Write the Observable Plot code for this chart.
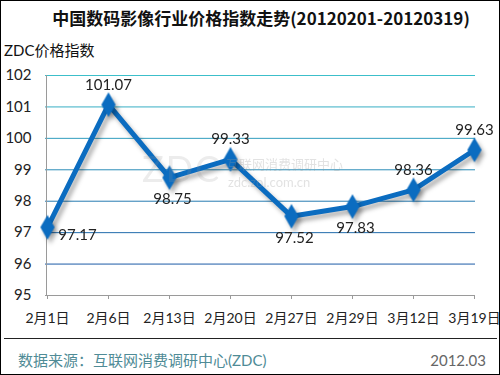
<!DOCTYPE html>
<html>
<head>
<meta charset="utf-8">
<script src="https://cdn.jsdelivr.net/npm/d3@7"></script>
<script src="https://cdn.jsdelivr.net/npm/@observablehq/plot@0.6"></script>
<style>
  html, body { margin: 0; padding: 0; background: #fff; }
  #wrap { position: relative; width: 500px; height: 375px; overflow: hidden; background: #fff;
          font-family: Lato, "Noto Sans CJK SC", sans-serif; }
  #border { position: absolute; left: 0; top: 0; width: 500px; height: 375px; box-sizing: border-box;
            border: 1px solid #000; pointer-events: none; }
  #title { position: absolute; left: 22px; right: 0; top: 6px; text-align: center;
           font: bold 17px "Noto Sans CJK SC", sans-serif; color: #111; line-height: 24px; white-space: nowrap; }
  #ylabel { position: absolute; left: 4px; top: 40px; font-size: 15px; color: #111; line-height: 20px; }
  #plot { position: absolute; left: 0; top: 36px; }
  #wm1 { position: absolute; left: 142px; top: 151px; font: 36px Lato, sans-serif; line-height: 34px; color: rgba(150,150,150,0.18);
         letter-spacing: 2px; }
  #wm2 { position: absolute; left: 226px; top: 156px; font: 13px "Noto Sans CJK SC", sans-serif; line-height: 16px; color: rgba(150,150,150,0.28); }
  #wm3 { position: absolute; left: 228px; top: 175px; font: 13px Lato, sans-serif; line-height: 15px; color: rgba(150,150,150,0.28); }
  #rule { position: absolute; left: 4px; top: 338px; width: 493px; height: 1px; background: #222; }
  #source { position: absolute; left: 18px; top: 350px; font-size: 15px; color: #4f8b96; line-height: 20px; }
  #date { position: absolute; right: 14px; top: 350px; font-size: 15px; color: #666; line-height: 20px; }
</style>
</head>
<body>
<div id="wrap">
  <div id="title"></div>
  <div id="ylabel"></div>
  <div id="plot"></div>
  <div id="wm1">ZDC</div>
  <div id="wm2">互联网消费调研中心</div>
  <div id="wm3">zdc.zol.com.cn</div>
  <div id="rule"></div>
  <div id="source"></div>
  <div id="date"></div>
  <div id="border"></div>
</div>
<script>
const titleText = "中国数码影像行业价格指数走势(20120201-20120319)";
const yLabelText = "ZDC价格指数";
const sourceText = "数据来源：互联网消费调研中心(ZDC)";
const dateText = "2012.03";

const dates = ["2月1日", "2月6日", "2月13日", "2月20日", "2月27日", "2月29日", "3月12日", "3月19日"];
const values = [97.17, 101.07, 98.75, 99.33, 97.52, 97.83, 98.36, 99.63];
const labelPlacement = ["right", "above", "below", "above", "below", "below", "above", "above"];
const yTicks = [95, 96, 97, 98, 99, 100, 101, 102];
const gridTicks = [96, 97, 98, 99, 100, 101, 102];

document.getElementById("title").textContent = titleText;
document.getElementById("ylabel").textContent = yLabelText;
document.getElementById("source").textContent = sourceText;
document.getElementById("date").textContent = dateText;

const data = dates.map((d, i) => ({date: d, value: values[i], place: labelPlacement[i]}));
const gridColor = v => d3.interpolateRgb("#1c5ba6", "#3cbfca")((v - 96) / 6);
const blue = "#0b6cc0";

const chart = Plot.plot({
  width: 500,
  height: 294,
  marginTop: 39,
  marginBottom: 35,
  marginLeft: 45,
  marginRight: 25,
  style: {fontFamily: "Lato, 'Noto Sans CJK SC', sans-serif", fontSize: "15px", color: "#222", background: "transparent"},
  x: {type: "point", domain: dates, padding: 0},
  y: {domain: [95, 102]},
  color: {type: "identity"},
  marks: [
    Plot.ruleY(gridTicks, {y: d => d, stroke: d => gridColor(d), strokeWidth: 1}),
    Plot.ruleY([95], {stroke: "#9a9a9a", strokeWidth: 1}),
    Plot.ruleX([dates[0]], {y1: 95, y2: 102, stroke: "#9a9a9a", strokeWidth: 1, dx: -1}),
    Plot.axisX({tickSize: 4, tickPadding: 14, fontSize: 14, stroke: "#9a9a9a", fill: "#222", label: null}),
    Plot.axisY(yTicks, {tickSize: 0, tickPadding: 14, fontSize: 15, fill: "#222", label: null}),
    Plot.line(data, {x: "date", y: "value", stroke: blue, strokeWidth: 5, strokeLinejoin: "miter"}),
    Plot.dot(data, {x: "date", y: "value", symbol: "diamond", r: 7.5, fill: blue, stroke: "none"}),
    Plot.text(data.filter(d => d.place === "above"), {x: "date", y: "value", text: d => d.value.toFixed(2), dy: -20, fontSize: 15, fill: "#222"}),
    Plot.text(data.filter(d => d.place === "below"), {x: "date", y: "value", text: d => d.value.toFixed(2), dy: 22, dx: 3, fontSize: 15, fill: "#222"}),
    Plot.text(data.filter(d => d.place === "right"), {x: "date", y: "value", text: d => d.value.toFixed(2), dy: 8, dx: 30, fontSize: 15, fill: "#222"})
  ]
});
document.getElementById("plot").appendChild(chart);
d3.select(chart).selectAll('g[aria-label="line"], g[aria-label="dot"]')
  .style("filter", "drop-shadow(3px 4px 2px rgba(0,0,0,0.3))");
</script>
</body>
</html>
